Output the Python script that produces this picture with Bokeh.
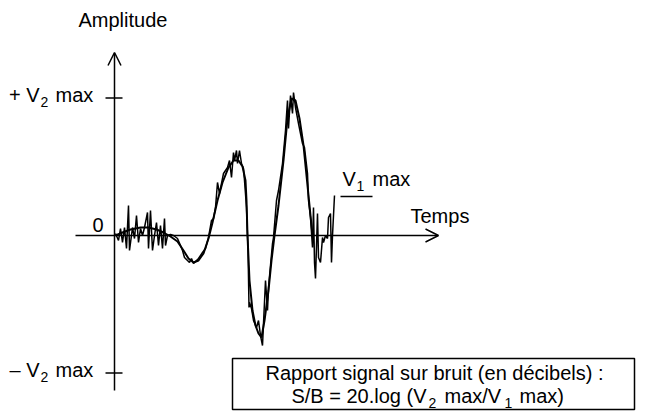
from bokeh.plotting import figure
from bokeh.models import Range1d, Arrow, OpenHead, BoxAnnotation
from bokeh.core.properties import value
from bokeh.embed import file_html
from bokeh.resources import INLINE

# ---- data (time in arbitrary units, amplitude in arbitrary units) ----
V2_MAX = 137.5
V1_MAX = 39

time_signal = [1, 8, 16, 26, 34, 42, 49, 56, 63, 69, 74, 79, 84, 89, 94, 98, 103, 108,
               114, 119, 124, 128, 131, 132, 133, 135, 138, 141, 144, 147, 150, 154, 157,
               160, 164, 169, 173, 177, 181, 185, 189, 192, 195, 198]
amp_signal = [0, 3, 6, 8, 8, 6, 3, -1, -6, -15, -23, -27, -25, -18, -3, 13, 35, 53,
              68, 75, 75, 69, 55, 35, 0, -45, -75, -90, -98, -102, -85, -55, -25,
              0, 30, 75, 117, 137, 135, 117, 90, 60, 30, 0]

time_noisy = [1, 4, 6, 8, 10, 12, 14, 15, 18, 20, 22, 24, 26, 28, 30, 33, 34, 36, 38, 40,
              42, 44, 46, 48, 50, 51, 53, 56, 59, 63, 66, 68, 70, 73, 75, 77, 79, 82, 84,
              88, 91, 94, 97, 99, 101, 103, 105, 108, 109, 113, 115, 117, 119, 120, 122,
              123, 125, 127, 129, 130, 132, 133, 133.5, 134.5, 135, 137, 139, 142, 144,
              146, 148, 149, 151, 153, 154, 158, 159, 162, 164, 168, 171, 173, 174, 176,
              178, 179, 181, 184, 188, 190, 193, 194, 196, 198, 199, 200, 201, 203, 204,
              206, 208, 209, 211, 213, 214, 216, 217, 218, 220]
amp_noisy = [2, -5, 7, -7, 8, -13, 30, -15, 8, -3, 20, -7, 7, 0, 8, 23, -13, 25, -15, 0,
             13, -10, 10, -13, 17, -10, 0, 1, 0, -3, -10, -15, -22, -25, -27, -23, -28, -25, -23,
             -17, -13, -2, 15, 17, 28, 53, 42, 57, 62, 68, 75, 58, 83, 75, 85,
             72, 85, 72, 67, 55, 28, 0, -12, -72, -67, -73, -85, -92, -85,
             -100, -110, -88, -45, -75, -52, -8, -2, 35, 45, 72, 105, 135, 107, 140,
             122, 143, 128, 112, 92, 88, 62, 35, 18, -12, 28, -27, -43, 22, -22,
             -27, -2, -7, 0, -3, 18, 22, -27, 0, 40]

FONT = value("Liberation Sans")

p = figure(width=653, height=417, x_range=Range1d(-114, 539), y_range=Range1d(-182, 235),
           output_backend="svg", toolbar_location=None, min_border=0,
           x_axis_location=None, y_axis_location=None)
p.grid.visible = False
p.outline_line_color = None
p.background_fill_color = "white"

# axes with arrows
p.add_layout(Arrow(end=OpenHead(size=13, line_width=1.5, line_color="black"),
                   x_start=0, y_start=-155, x_end=0, y_end=183,
                   line_width=1.5, line_color="black"))
p.add_layout(Arrow(end=OpenHead(size=13, line_width=1.5, line_color="black"),
                   x_start=-39, y_start=0, x_end=324, y_end=0,
                   line_width=1.5, line_color="black"))

# ticks at +/- V2 max and V1 max marker
p.segment(x0=[-9, -9], y0=[V2_MAX, -V2_MAX], x1=[8, 8], y1=[V2_MAX, -V2_MAX],
          line_color="black", line_width=1.3)
p.segment(x0=[226], y0=[V1_MAX], x1=[258], y1=[V1_MAX], line_color="black", line_width=1.3)

# signals
p.line(time_signal, amp_signal, line_color="black", line_width=2)
p.line(time_noisy, amp_noisy, line_color="black", line_width=1.5)

# box
p.add_layout(BoxAnnotation(left=118, right=520, top=-123, bottom=-174,
                           fill_alpha=0, line_color="black", line_alpha=1, line_width=1.5))

MAIN_DY = 8   # compensation for the renderer's baseline offset
SUB_DY = 6

def txt(x, y, s, size="20px", align="left"):
    dy = SUB_DY if size != "20px" else MAIN_DY
    p.text(x=[x], y=[y + dy], text=[s], text_font=FONT, text_font_size=size,
           text_align=align, text_baseline="alphabetic", text_color="black")

txt(-36, 208, "Amplitude")
txt(-105.5, 133, "+ V")
txt(-74, 128, "2", "14px")
txt(-59, 133, "max")
txt(-105, -142.5, "\u2013 V")
txt(-74, -147.5, "2", "14px")
txt(-59, -142.5, "max")
txt(-16.5, 3, "0", align="center")
txt(296, 12, "Temps")
txt(228, 49, "V")
txt(242, 44, "1", "14px")
txt(258, 49, "max")

txt(320, -145, "Rapport signal sur bruit (en d\u00e9cibels) :", align="center")
txt(312, -168, "S/B = 20.log (V", align="right")
txt(314, -173, "2", "14px")
txt(330, -168, "max/V")
txt(390, -173, "1", "14px")
txt(405, -168, "max)")

open("out.html", "w").write(file_html(p, INLINE))
